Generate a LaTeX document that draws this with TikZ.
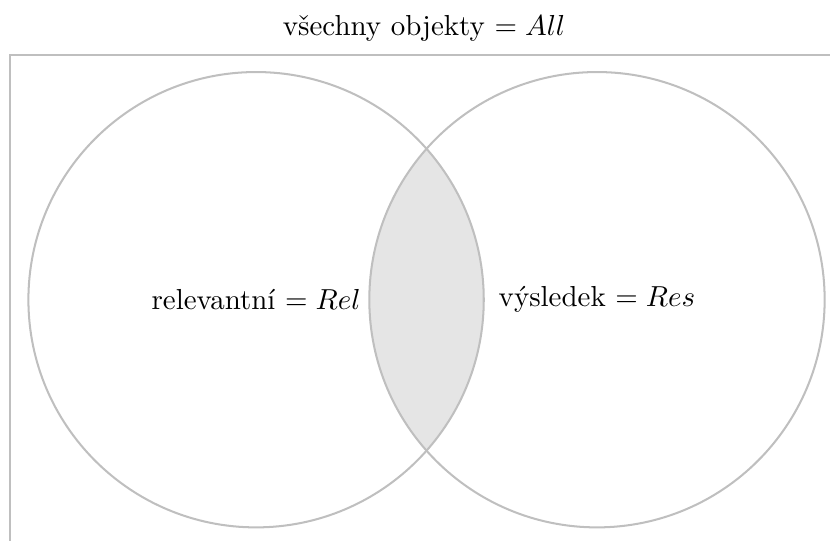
\documentclass[tikz,border=0pt]{standalone}
\usepackage{fontspec}
\usetikzlibrary{positioning}

\begin{document}
\begin{tikzpicture}[
        mnozina/.style={circle, draw=lightgray, line width=0.7pt, minimum size=5.53cm, inner sep=0pt},
        ramec/.style={draw=lightgray, line width=0.7pt}
    ]
        \useasboundingbox (0,0) rectangle (10.08,6.56);
        \clip (0,0) rectangle (10.08,6.56);

        \coordinate (c1) at (3.11,2.92);
        \coordinate (c2) at (7.25,2.92);

        % prunik Rel a Res
        \begin{scope}
            \clip (c1) circle (2.765);
            \fill[gray!20] (c2) circle (2.765);
        \end{scope}

        \draw[ramec] (0.12,5.89) rectangle (10.6,-0.6);
        \node (all) at (5.15,6.22) {všechny objekty $= All$};

        \node[mnozina] (rel) at (c1) {relevantní $= Rel$};
        \node[mnozina] (res) at (c2) {výsledek $= Res$};
    \end{tikzpicture}
\end{document}
